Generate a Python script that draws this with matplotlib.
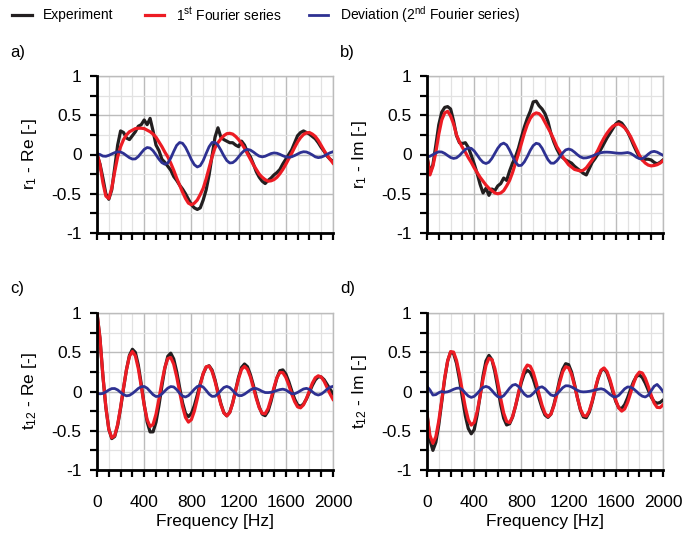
import numpy as np
import matplotlib
matplotlib.use("Agg")
import matplotlib.pyplot as plt
from matplotlib.lines import Line2D
from matplotlib.ticker import MultipleLocator, FuncFormatter

plt.rcParams['font.family'] = ['Liberation Sans', 'DejaVu Sans']
plt.rcParams['mathtext.fontset'] = 'custom'
plt.rcParams['mathtext.rm'] = 'Liberation Sans'
plt.rcParams['mathtext.it'] = 'Liberation Sans:italic'
plt.rcParams['axes.unicode_minus'] = False

# frequency grid [Hz], one value every 25 Hz (8 values per row below = 200 Hz)
freq = np.arange(0, 2001, 25)

# a) r1 - Re
exp_a = [0.0, -0.12, -0.30, -0.50, -0.57, -0.45, -0.17, 0.12,
         0.30, 0.28, 0.21, 0.19, 0.24, 0.29, 0.36, 0.38,
         0.44, 0.38, 0.46, 0.30, 0.12, 0.05, -0.06, -0.10,
         -0.15, -0.20, -0.28, -0.33, -0.39, -0.44, -0.50, -0.57,
         -0.64, -0.68, -0.70, -0.68, -0.58, -0.45, -0.26, -0.02,
         0.22, 0.34, 0.22, 0.19, 0.17, 0.15, 0.15, 0.12,
         0.10, 0.17, 0.12, 0.03, -0.03, -0.12, -0.22, -0.29,
         -0.34, -0.37, -0.33, -0.30, -0.26, -0.23, -0.19, -0.12,
         -0.06, 0.0, 0.06, 0.15, 0.24, 0.28, 0.30, 0.28,
         0.26, 0.23, 0.20, 0.15, 0.09, 0.04, -0.02, -0.06,
         -0.09]
fit_a = [0.02, -0.13, -0.36, -0.53, -0.56, -0.43, -0.22, -0.03,
         0.10, 0.19, 0.25, 0.29, 0.31, 0.33, 0.335, 0.335,
         0.33, 0.31, 0.29, 0.26, 0.22, 0.16, 0.10, 0.03,
         -0.03, -0.11, -0.20, -0.30, -0.39, -0.48, -0.56, -0.62,
         -0.64, -0.62, -0.58, -0.51, -0.43, -0.31, -0.17, -0.03,
         0.085, 0.15, 0.20, 0.24, 0.265, 0.27, 0.26, 0.23,
         0.19, 0.14, 0.08, 0.01, -0.06, -0.13, -0.19, -0.25,
         -0.29, -0.32, -0.34, -0.335, -0.32, -0.29, -0.245, -0.19,
         -0.125, -0.055, 0.015, 0.09, 0.16, 0.215, 0.255, 0.275,
         0.28, 0.26, 0.23, 0.18, 0.115, 0.05, -0.01, -0.06,
         -0.11]
dev_a = [0.01, 0.0, -0.02, -0.023, -0.011, 0.007, 0.024, 0.034,
         0.032, 0.0135, -0.014, -0.041, -0.058, -0.056, -0.026, 0.021,
         0.065, 0.089, 0.082, 0.048, -0.004, -0.06, -0.104, -0.124,
         -0.108, -0.046, 0.039, 0.116, 0.153, 0.143, 0.092, 0.016,
         -0.066, -0.13, -0.159, -0.142, -0.078, 0.013, 0.099, 0.153,
         0.155, 0.119, 0.055, -0.017, -0.077, -0.108, -0.104, -0.075,
         -0.03, 0.017, 0.052, 0.065, 0.056, 0.032, 0.003, -0.021,
         -0.03, -0.022, -0.005, 0.012, 0.02, 0.016, 0.002, -0.016,
         -0.03, -0.035, -0.029, -0.013, 0.006, 0.025, 0.035, 0.032,
         0.016, -0.005, -0.03, -0.04, -0.034, -0.018, 0.003, 0.022,
         0.035]

# b) r1 - Im
exp_b = [-0.02, -0.24, -0.13, 0.12, 0.38, 0.54, 0.60, 0.61,
         0.58, 0.43, 0.24, 0.15, 0.14, 0.15, 0.09, -0.01,
         -0.12, -0.24, -0.38, -0.49, -0.43, -0.52, -0.44, -0.46,
         -0.40, -0.37, -0.30, -0.33, -0.21, -0.11, -0.03, 0.08,
         0.22, 0.35, 0.46, 0.55, 0.67, 0.68, 0.62, 0.58,
         0.52, 0.42, 0.27, 0.16, 0.07, 0.00, -0.04, -0.07,
         -0.09, -0.11, -0.15, -0.18, -0.21, -0.24, -0.26, -0.18,
         -0.10, -0.05, 0.01, 0.07, 0.14, 0.21, 0.27, 0.33,
         0.39, 0.42, 0.40, 0.35, 0.29, 0.21, 0.12, 0.04,
         -0.03, -0.07, -0.06, -0.06, -0.07, -0.10, -0.12, -0.10,
         -0.07]
fit_b = [-0.03, -0.26, -0.15, 0.03, 0.26, 0.44, 0.53, 0.55,
         0.49, 0.39, 0.25, 0.16, 0.09, 0.03, -0.04, -0.10,
         -0.17, -0.23, -0.29, -0.34, -0.39, -0.43, -0.46, -0.49,
         -0.50, -0.49, -0.46, -0.40, -0.33, -0.23, -0.11, 0.01,
         0.14, 0.27, 0.38, 0.46, 0.51, 0.53, 0.52, 0.48,
         0.41, 0.34, 0.27, 0.19, 0.10, 0.04, -0.03, -0.08,
         -0.13, -0.16, -0.19, -0.20, -0.21, -0.20, -0.17, -0.12,
         -0.07, -0.01, 0.06, 0.14, 0.21, 0.27, 0.32, 0.36,
         0.38, 0.39, 0.37, 0.34, 0.29, 0.23, 0.15, 0.07,
         -0.01, -0.07, -0.11, -0.135, -0.145, -0.14, -0.13, -0.11,
         -0.08]
dev_b = [-0.03, -0.022, -0.002, 0.02, 0.034, 0.032, 0.014, -0.013,
         -0.038, -0.05, -0.042, -0.013, 0.027, 0.064, 0.084, 0.078,
         0.045, -0.006, -0.06, -0.1, -0.115, -0.098, -0.05, 0.015,
         0.08, 0.128, 0.145, 0.121, 0.055, -0.025, -0.098, -0.141,
         -0.138, -0.094, -0.026, 0.052, 0.113, 0.143, 0.133, 0.081,
         0.006, -0.066, -0.11, -0.111, -0.08, -0.032, 0.02, 0.058,
         0.07, 0.058, 0.03, -0.003, -0.031, -0.045, -0.043, -0.034,
         -0.02, -0.004, 0.011, 0.023, 0.029, 0.03, 0.028, 0.024,
         0.019, 0.016, 0.016, 0.02, 0.025, 0.015, -0.008, -0.035,
         -0.053, -0.052, -0.029, 0.005, 0.032, 0.04, 0.03, 0.01,
         -0.01]

# c) t12 - Re
exp_c = [1.0, 0.68, 0.20, -0.20, -0.48, -0.60, -0.573, -0.432,
         -0.213, 0.042, 0.28, 0.461, 0.538, 0.498, 0.337, 0.096,
         -0.166, -0.389, -0.515, -0.514, -0.391, -0.178, 0.07, 0.296,
         0.449, 0.488, 0.415, 0.255, 0.052, -0.142, -0.28, -0.32,
         -0.279, -0.18, -0.044, 0.101, 0.225, 0.309, 0.328, 0.273,
         0.15, -0.006, -0.156, -0.27, -0.31, -0.266, -0.145, 0.02,
         0.185, 0.306, 0.35, 0.316, 0.215, 0.081, -0.07, -0.198,
         -0.288, -0.308, -0.25, -0.124, 0.033, 0.173, 0.265, 0.275,
         0.224, 0.127, 0.01, -0.096, -0.171, -0.189, -0.16, -0.095,
         -0.009, 0.078, 0.148, 0.187, 0.185, 0.15, 0.09, 0.03,
         -0.03]
fit_c = [1.0, 0.68, 0.20, -0.20, -0.48, -0.59, -0.563, -0.42,
         -0.20, 0.05, 0.28, 0.448, 0.51, 0.454, 0.292, 0.065,
         -0.175, -0.359, -0.446, -0.42, -0.29, -0.094, 0.12, 0.306,
         0.42, 0.433, 0.349, 0.19, -0.002, -0.19, -0.33, -0.39,
         -0.358, -0.25, -0.093, 0.081, 0.229, 0.315, 0.324, 0.257,
         0.132, -0.021, -0.168, -0.272, -0.31, -0.267, -0.148, 0.012,
         0.167, 0.283, 0.32, 0.282, 0.186, 0.052, -0.089, -0.208,
         -0.278, -0.284, -0.217, -0.092, 0.052, 0.177, 0.243, 0.24,
         0.181, 0.084, -0.031, -0.129, -0.196, -0.208, -0.17, -0.089,
         0.009, 0.106, 0.175, 0.2, 0.185, 0.13, 0.05, -0.03,
         -0.10]
dev_c = [-0.02, -0.03, -0.025, -0.005, 0.019, 0.037, 0.038, 0.02,
         -0.011, -0.04, -0.055, -0.049, -0.025, 0.006, 0.039, 0.06,
         0.064, 0.042, 0.001, -0.04, -0.064, -0.059, -0.031, 0.007,
         0.043, 0.063, 0.058, 0.025, -0.021, -0.058, -0.07, -0.052,
         -0.014, 0.029, 0.063, 0.075, 0.056, 0.014, -0.033, -0.062,
         -0.06, -0.03, 0.013, 0.051, 0.065, 0.05, 0.013, -0.027,
         -0.052, -0.052, -0.034, -0.007, 0.02, 0.038, 0.038, 0.022,
         0.002, -0.013, -0.014, -0.01, 0.0, 0.013, 0.024, 0.03,
         0.02, -0.006, -0.028, -0.028, -0.012, 0.011, 0.032, 0.04,
         0.027, -0.004, -0.033, -0.045, -0.033, -0.005, 0.028, 0.055,
         0.065]

# d) t12 - Im
exp_d = [-0.27, -0.62, -0.75, -0.647, -0.423, -0.131, 0.162, 0.389,
         0.502, 0.485, 0.36, 0.158, -0.082, -0.309, -0.472, -0.539,
         -0.486, -0.30, -0.056, 0.20, 0.39, 0.46, 0.406, 0.251,
         0.046, -0.172, -0.341, -0.426, -0.411, -0.327, -0.188, -0.028,
         0.116, 0.228, 0.27, 0.244, 0.162, 0.043, -0.09, -0.21,
         -0.30, -0.33, -0.289, -0.171, -0.015, 0.153, 0.284, 0.354,
         0.342, 0.248, 0.094, -0.081, -0.235, -0.324, -0.334, -0.264,
         -0.135, 0.022, 0.164, 0.265, 0.29, 0.238, 0.129, -0.006,
         -0.128, -0.207, -0.216, -0.168, -0.08, 0.027, 0.124, 0.193,
         0.21, 0.177, 0.106, 0.017, -0.071, -0.13, -0.15, -0.14,
         -0.11]
fit_d = [-0.30, -0.56, -0.66, -0.576, -0.373, -0.109, 0.174, 0.39,
         0.508, 0.502, 0.396, 0.219, 0.002, -0.202, -0.36, -0.428,
         -0.394, -0.258, -0.057, 0.155, 0.335, 0.424, 0.407, 0.292,
         0.11, -0.095, -0.275, -0.381, -0.397, -0.322, -0.185, -0.02,
         0.148, 0.275, 0.337, 0.322, 0.244, 0.114, -0.035, -0.175,
         -0.278, -0.32, -0.289, -0.184, -0.038, 0.119, 0.25, 0.315,
         0.303, 0.218, 0.077, -0.083, -0.224, -0.305, -0.314, -0.247,
         -0.122, 0.033, 0.176, 0.272, 0.30, 0.255, 0.154, 0.02,
         -0.113, -0.21, -0.25, -0.223, -0.139, -0.022, 0.10, 0.20,
         0.247, 0.235, 0.168, 0.066, -0.049, -0.147, -0.202, -0.205,
         -0.17]
dev_d = [0.065, 0.02, -0.045, -0.04, -0.015, 0.0, -0.01, -0.004,
         0.01, 0.028, 0.041, 0.044, 0.022, -0.02, -0.058, -0.075,
         -0.062, -0.027, 0.017, 0.052, 0.065, 0.051, 0.013, -0.032,
         -0.066, -0.075, -0.053, -0.007, 0.042, 0.08, 0.09, 0.065,
         0.016, -0.034, -0.063, -0.058, -0.026, 0.016, 0.05, 0.06,
         0.036, -0.006, -0.044, -0.055, -0.034, 0.006, 0.048, 0.073,
         0.072, 0.058, 0.037, 0.015, -0.001, -0.005, -0.003, 0.002,
         0.01, 0.019, 0.028, 0.035, 0.025, -0.004, -0.037, -0.063,
         -0.07, -0.049, -0.008, 0.034, 0.058, 0.055, 0.034, 0.001,
         -0.034, -0.06, -0.07, -0.047, 0.01, 0.067, 0.09, 0.05,
         0.0]

panels = [
    ('a)', 'r$_\\mathregular{1}$ - Re [-]', exp_a, fit_a, dev_a),
    ('b)', 'r$_\\mathregular{1}$ - Im [-]', exp_b, fit_b, dev_b),
    ('c)', 't$_\\mathregular{12}$ - Re [-]', exp_c, fit_c, dev_c),
    ('d)', 't$_\\mathregular{12}$ - Im [-]', exp_d, fit_d, dev_d),
]

C_EXP = '#231f20'
C_FIT = '#ed1c24'
C_DEV = '#2e3192'
FS_TICK = 12.5
FS_LAB = 12.5
FS_TAG = 12
FS_LEG = 10

W, H = 684, 539
fig = plt.figure(figsize=(W / 100, H / 100), dpi=100)

# axes boxes in pixels: left, top
boxes = [(97, 76), (427, 76), (97, 313), (427, 313)]
aw, ah = 236, 157

for i, (tag, ylab, e, r, d) in enumerate(panels):
    left, top = boxes[i]
    ax = fig.add_axes([left / W, 1 - (top + ah) / H, aw / W, ah / H])

    ax.plot(freq, e, color=C_EXP, lw=2.3, zorder=3, solid_joinstyle='round')
    ax.plot(freq, r, color=C_FIT, lw=2.3, zorder=4, solid_joinstyle='round')
    ax.plot(freq, d, color=C_DEV, lw=2.0, zorder=5, solid_joinstyle='round')

    ax.set_xlim(0, 2000)
    ax.set_ylim(-1, 1)
    ax.xaxis.set_major_locator(MultipleLocator(400))
    ax.xaxis.set_minor_locator(MultipleLocator(100))
    ax.yaxis.set_major_locator(MultipleLocator(0.5))
    ax.yaxis.set_minor_locator(MultipleLocator(0.25))
    ax.yaxis.set_major_formatter(FuncFormatter(lambda v, p: f'{v:g}'))

    ax.grid(which='major', color='#bcbcbc', lw=1.0, zorder=0)
    ax.grid(which='minor', color='#e2e2e2', lw=0.9, zorder=0)
    ax.set_axisbelow(True)

    for s in ['left', 'bottom']:
        ax.spines[s].set_linewidth(2.0)
        ax.spines[s].set_color('black')
        ax.spines[s].set_zorder(6)
    for s in ['top', 'right']:
        ax.spines[s].set_linewidth(1.0)
        ax.spines[s].set_color('#bcbcbc')

    ax.tick_params(which='both', direction='out', length=5, width=1.6, color='black',
                   labelsize=FS_TICK, top=False, right=False)
    ax.tick_params(axis='y', pad=6)
    ax.tick_params(axis='x', pad=13)

    ax.set_ylabel(ylab, fontsize=FS_LAB, labelpad=9)
    if i < 2:
        ax.tick_params(axis='x', labelbottom=False)
    else:
        ax.set_xlabel('Frequency [Hz]', fontsize=FS_LAB, labelpad=3)

    fig.text((left - 87) / W, 1 - (top - 24) / H, tag, fontsize=FS_TAG, va='center', ha='left')

# legend row across the top, placed by hand
leg_y = 1 - 15 / H
entries = [(C_EXP, 2.3, 12, 32, 43, 'Experiment'),
           (C_FIT, 2.3, 145, 164, 176, '1$^\\mathregular{st}$ Fourier series'),
           (C_DEV, 2.0, 309, 328, 340, 'Deviation (2$^\\mathregular{nd}$ Fourier series)')]
for col, lw, x0, x1, xt, txt in entries:
    fig.add_artist(Line2D([x0 / W, x1 / W], [leg_y, leg_y], color=col, lw=lw,
                          transform=fig.transFigure))
    fig.text(xt / W, leg_y, txt, fontsize=FS_LEG, va='center', ha='left')

fig.savefig('out.png', dpi=100)
